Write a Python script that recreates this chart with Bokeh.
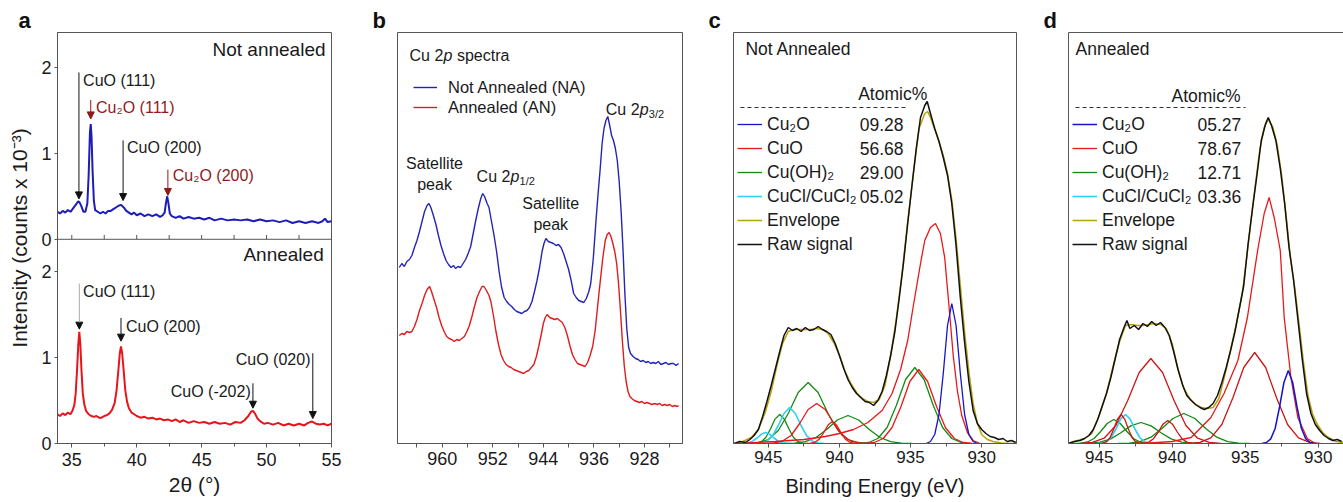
from bokeh.plotting import figure
from bokeh.models import (Range1d, FixedTicker, Label, Arrow, NormalHead, Span, Legend,
                          LegendItem, LinearAxis, CustomJSTickFormatter)
from bokeh.layouts import row
from bokeh.embed import file_html
from bokeh.resources import INLINE

FONT = "Liberation Sans"

# ---------------- DATA ----------------
# Panel a: XRD, intensity in counts x 10^-3
xrd_na = [(33.9,0.32),(34.1,0.30),(34.3,0.33),(34.5,0.31),(34.7,0.34),(34.9,0.32),(35.1,0.36),(35.3,0.40),
          (35.5,0.44),(35.6,0.43),(35.75,0.38),(35.9,0.32),(36.05,0.32),(36.2,0.42),(36.3,0.75),(36.4,1.25),
          (36.46,1.34),(36.52,1.20),(36.6,0.80),(36.7,0.45),(36.8,0.34),(37.0,0.32),(37.2,0.30),(37.4,0.32),
          (37.6,0.30),(37.8,0.33),(38.0,0.33),(38.2,0.35),(38.4,0.37),(38.6,0.39),(38.8,0.40),(39.0,0.37),
          (39.2,0.33),(39.4,0.31),(39.6,0.29),(39.8,0.31),(40.0,0.28),(40.3,0.30),(40.6,0.27),(40.9,0.29),
          (41.2,0.27),(41.5,0.29),(41.8,0.26),(42.0,0.28),(42.15,0.31),(42.25,0.42),(42.35,0.50),(42.45,0.41),
          (42.55,0.30),(42.7,0.27),(43.0,0.25),(43.3,0.27),(43.6,0.24),(44.0,0.26),(44.4,0.24),(44.8,0.25),
          (45.2,0.23),(45.6,0.25),(46.0,0.22),(46.5,0.24),(47.0,0.22),(47.5,0.23),(48.0,0.22),(48.5,0.23),
          (49.0,0.21),(49.5,0.23),(50.0,0.21),(50.5,0.22),(51.0,0.20),(51.5,0.22),(52.0,0.19),(52.5,0.21),
          (53.0,0.19),(53.5,0.21),(54.0,0.19),(54.3,0.21),(54.5,0.24),(54.7,0.20),(55.0,0.21)]
xrd_an = [(33.9,0.34),(34.1,0.32),(34.3,0.35),(34.5,0.33),(34.7,0.36),(34.9,0.34),(35.05,0.38),(35.2,0.45),
          (35.3,0.58),(35.4,0.84),(35.5,1.15),(35.58,1.30),(35.66,1.15),(35.75,0.84),(35.85,0.58),(35.97,0.45),
          (36.1,0.38),(36.3,0.34),(36.5,0.32),(36.7,0.31),(36.9,0.32),(37.1,0.30),(37.3,0.30),(37.5,0.32),
          (37.7,0.33),(37.9,0.35),(38.1,0.39),(38.3,0.47),(38.45,0.62),(38.58,0.84),(38.7,1.05),(38.79,1.13),
          (38.88,1.05),(39.0,0.84),(39.12,0.62),(39.25,0.49),(39.4,0.41),(39.6,0.36),(39.8,0.34),(40.0,0.32),
          (40.3,0.30),(40.6,0.31),(40.9,0.29),(41.2,0.30),(41.5,0.28),(41.8,0.29),(42.1,0.27),(42.4,0.28),
          (42.7,0.26),(43.0,0.28),(43.3,0.25),(43.6,0.27),(44.0,0.24),(44.4,0.26),(44.8,0.24),(45.2,0.25),
          (45.6,0.23),(46.0,0.25),(46.4,0.23),(46.8,0.24),(47.2,0.22),(47.6,0.25),(48.0,0.24),(48.3,0.27),
          (48.6,0.32),(48.8,0.37),(48.95,0.38),(49.1,0.35),(49.3,0.29),(49.5,0.26),(49.8,0.23),(50.1,0.24),
          (50.5,0.22),(50.9,0.24),(51.3,0.21),(51.7,0.23),(52.1,0.21),(52.5,0.23),(52.9,0.21),(53.2,0.24),
          (53.5,0.255),(53.8,0.23),(54.1,0.22),(54.4,0.23),(54.7,0.21),(55.0,0.23)]
xrd_major = [35, 40, 45, 50, 55]
xrd_minor = [37.5, 42.5, 47.5, 52.5]

# Panel b: Cu 2p survey (arbitrary units)
b_na = [(966.8,176),(966.4,180),(966.0,177),(965.6,182),(965.2,184),(964.8,188),(964.4,196),(964.0,203),
        (963.6,212),(963.2,222),(962.8,232),(962.4,238),(962.1,240),(961.8,236),(961.4,228),(961.0,219),
        (960.6,208),(960.2,198),(959.8,190),(959.4,183),(959.0,179),(958.6,176),(958.2,178),(957.9,175),
        (957.5,177),(957.1,176),(956.7,180),(956.3,184),(955.9,190),(955.5,197),(955.1,210),(954.7,223),
        (954.3,235),(953.9,245),(953.6,250),(953.3,247),(952.9,240),(952.6,236),(952.2,222),(951.8,208),
        (951.4,192),(951.0,172),(950.6,156),(950.2,146),(949.8,142),(949.4,139),(949.0,137),(948.6,134),
        (948.2,132),(947.8,131),(947.4,130),(947.0,132),(946.6,133),(946.2,136),(945.8,142),(945.4,152),
        (945.0,163),(944.6,176),(944.2,192),(943.9,200),(943.6,205),(943.2,202),(942.8,201),(942.4,200),
        (942.0,198),(941.6,199),(941.2,196),(940.8,190),(940.4,182),(940.0,174),(939.6,163),(939.2,150),
        (938.8,146),(938.4,143),(938.0,142),(937.6,141),(937.2,145),(936.8,152),(936.5,160),(936.1,185),
        (935.7,220),(935.4,245),(935.0,275),(934.7,300),(934.4,315),(934.1,323),(933.8,327),(933.5,318),
        (933.2,308),(932.9,303),(932.6,295),(932.3,283),(932.0,262),(931.7,233),(931.4,195),(931.1,150),
        (930.8,115),(930.5,96),(930.2,90),(929.8,87),(929.4,85),(929.0,84),(928.6,82),(928.2,83),
        (927.8,81),(927.4,82),(927.0,80),(926.6,81),(926.2,80),(925.8,82),(925.4,79),(925.0,80),
        (924.6,81),(924.2,79),(923.8,80),(923.4,80),(923.0,78),(922.6,80)]
b_an = [(966.8,108),(966.4,110),(966.0,109),(965.6,112),(965.2,111),(964.8,112),(964.4,117),(964.0,124),
        (963.6,133),(963.2,140),(962.8,148),(962.4,154),(962.0,157),(961.7,152),(961.3,144),(960.9,136),
        (960.5,126),(960.1,118),(959.7,112),(959.3,107),(958.9,105),(958.5,104),(958.1,102),(957.7,104),
        (957.3,103),(956.9,105),(956.5,107),(956.1,112),(955.7,118),(955.3,127),(954.9,137),(954.5,146),
        (954.1,152),(953.7,157),(953.4,157),(953.0,153),(952.6,148),(952.3,142),(951.9,128),(951.5,112),
        (951.1,99),(950.7,89),(950.3,83),(949.9,79),(949.5,77),(949.1,76),(948.7,74),(948.3,73),
        (947.9,72),(947.5,71),(947.1,70),(946.7,72),(946.3,73),(945.9,76),(945.5,79),(945.1,87),
        (944.7,98),(944.3,110),(944.0,120),(943.7,126),(943.4,129),(943.0,126),(942.6,125),(942.2,124),
        (941.8,125),(941.4,123),(941.0,121),(940.6,116),(940.2,108),(939.8,98),(939.4,89),(939.0,84),
        (938.6,80),(938.2,79),(937.8,78),(937.4,77),(937.0,81),(936.6,88),(936.2,97),(935.8,113),
        (935.4,138),(935.0,162),(934.6,185),(934.2,203),(933.9,209),(933.6,211),(933.3,207),(933.0,200),
        (932.7,192),(932.4,180),(932.1,160),(931.8,133),(931.5,103),(931.2,78),(930.9,62),(930.6,52),
        (930.3,47),(930.0,45),(929.6,43),(929.2,42),(928.8,41),(928.4,42),(928.0,40),(927.6,41),
        (927.2,40),(926.8,39),(926.4,40),(926.0,39),(925.6,40),(925.2,38),(924.8,39),(924.4,38),
        (924.0,39),(923.6,37),(923.2,38),(922.8,37),(922.6,38)]
b_major = [928, 936, 944, 952, 960]
b_minor = [924, 932, 940, 948, 956, 964]

# Panel c: Not annealed, fitted Cu 2p3/2 (arbitrary units)
c_raw = [(947.4,0),(947.0,2),(946.6,1),(946.3,4),(946.0,8),(945.7,14),(945.4,27),(945.1,42),(944.8,58),
         (944.5,75),(944.2,92),(943.9,108),(943.6,116),(943.3,113),(943.0,115),(942.7,112),(942.4,116),
         (942.1,113),(941.8,114),(941.5,117),(941.2,114),(940.9,112),(940.6,109),(940.3,100),(940.0,88),
         (939.7,75),(939.4,64),(939.1,56),(938.8,50),(938.5,46),(938.2,42),(937.9,41),(937.6,38),(937.3,43),
         (937.0,52),(936.7,68),(936.4,88),(936.1,112),(935.8,145),(935.5,180),(935.2,220),(934.9,258),
         (934.6,295),(934.3,326),(934.0,338),(933.83,342),(933.6,330),(933.3,315),(933.0,302),(932.7,286),
         (932.4,268),(932.1,240),(931.8,198),(931.5,146),(931.2,101),(930.9,62),(930.6,33),(930.3,20),
         (930.0,14),(929.7,10),(929.4,7),(929.1,6),(928.8,4),(928.5,5),(928.2,2),(927.9,3),(927.6,1)]
c_env = [(947.4,0),(946.8,2),(946.2,6),(945.7,14),(945.2,32),(944.8,52),(944.4,78),(944.0,100),(943.6,112),
         (943.2,114),(942.8,114),(942.4,114),(942.0,114),(941.6,115),(941.2,114),(940.8,110),(940.4,101),
         (940.0,88),(939.6,72),(939.2,60),(938.8,51),(938.4,45),(938.0,42),(937.6,41),(937.2,44),(936.8,58),
         (936.4,88),(936.0,125),(935.6,170),(935.2,222),(934.8,270),(934.4,315),(934.0,330),(933.8,332),
         (933.6,326),(933.3,314),(933.0,302),(932.7,288),(932.4,270),(932.1,244),(931.8,205),(931.5,158),
         (931.2,112),(930.9,72),(930.6,40),(930.3,20),(930.0,9),(929.6,4),(929.2,2),(928.6,0.5),(928.0,0),
         (927.6,0)]
c_cu2o = [(933.9,0),(933.6,2),(933.3,9),(933.0,29),(932.7,70),(932.4,118),(932.1,140),(931.8,118),
          (931.5,70),(931.2,29),(930.9,9),(930.6,2),(930.3,0)]
c_cuo_main = [(946.5,0.5),(944.5,2),(942.5,4),(941.0,7),(940.0,10),(939.0,14),(938.0,21),(937.0,33),
              (936.3,50),(935.7,74),(935.2,103),(934.8,138),(934.3,180),(934.0,203),(933.6,216),
              (933.25,220),(932.9,210),(932.6,186),(932.3,138),(932.0,88),(931.7,52),(931.4,28),
              (931.0,11),(930.6,3),(930.1,0)]
c_cuo_b = [(938.17,0),(937.55,1),(936.92,5),(936.3,16),(935.67,37),(935.05,62),(934.42,74),(933.8,62),
           (933.17,37),(932.55,16),(931.92,5),(931.3,1),(930.67,0)]
c_cuo_s1 = [(945.2,0),(944.6,0.5),(944.0,2.5),(943.4,8),(942.8,20),(942.2,34),(941.6,40),(941.0,34),
            (940.4,20),(939.8,8),(939.2,2.5),(938.6,0.5),(938.0,0)]
c_cuo_s2 = [(942.3,0),(942.0,0.3),(941.7,1.4),(941.4,4.6),(941.1,11),(940.8,18.5),(940.5,22),(940.2,18.5),
            (939.9,11),(939.6,4.6),(939.3,1.4),(939.0,0.3),(938.7,0)]
c_oh_main = [(938.6,0),(937.95,1),(937.3,5),(936.65,16),(936.0,38),(935.35,64),(934.7,76),(934.05,64),
             (933.4,38),(932.75,16),(932.1,5),(931.45,1),(930.8,0)]
c_oh_s1 = [(946.4,0),(945.7,1),(945.0,4),(944.3,13),(943.6,30),(942.9,51),(942.2,61),(941.5,51),
           (940.8,30),(940.1,13),(939.4,4),(938.7,1),(938.0,0)]
c_oh_s2 = [(943.9,0),(943.15,0.4),(942.4,1.8),(941.65,6),(940.9,14),(940.15,23.5),(939.4,28),(938.65,23.5),
           (937.9,14),(937.15,6),(936.4,1.8),(935.65,0.4),(934.9,0)]
c_oh_s3 = [(946.15,0),(945.83,0.4),(945.5,1.8),(945.18,6),(944.85,14.5),(944.53,24.4),(944.2,29),
           (943.88,24.4),(943.55,14.5),(943.23,6),(942.9,1.8),(942.58,0.4),(942.25,0)]
c_cl_a = [(945.9,0),(945.5,0.5),(945.1,2.3),(944.7,7.6),(944.3,18),(943.9,30),(943.5,36),(943.1,30),
          (942.7,18),(942.3,7.6),(941.9,2.3),(941.5,0.5),(941.1,0)]
c_cl_b = [(947.0,0),(946.7,0.1),(946.4,0.7),(946.1,2.3),(945.8,5.5),(945.5,9.2),(945.2,11),(944.9,9.2),
          (944.6,5.5),(944.3,2.3),(944.0,0.7),(943.7,0.1),(943.4,0)]

# Panel d: Annealed
d_raw = [(947.1,0),(946.7,2),(946.3,3),(946.0,5),(945.7,8),(945.4,14),(945.1,24),(944.8,37),(944.5,50),
         (944.2,66),(943.9,85),(943.6,104),(943.3,116),(943.1,123),(942.9,115),(942.6,118),(942.3,114),
         (942.0,120),(941.7,117),(941.4,122),(941.1,118),(940.8,121),(940.5,116),(940.2,108),(939.9,92),
         (939.6,74),(939.3,59),(939.0,48),(938.7,43),(938.4,39),(938.1,36),(937.8,34),(937.5,36),(937.2,40),
         (936.9,48),(936.6,61),(936.3,76),(936.0,93),(935.7,112),(935.4,135),(935.1,158),(934.8,200),
         (934.5,235),(934.2,268),(933.9,303),(933.6,320),(933.42,326),(933.2,318),(932.9,303),(932.6,275),
         (932.3,240),(932.0,196),(931.7,165),(931.4,125),(931.1,85),(930.8,50),(930.5,30),(930.2,19),
         (929.9,13),(929.6,8),(929.3,5),(929.0,3),(928.7,4),(928.4,2)]
d_env = [(947.1,0),(946.5,3),(946.0,5),(945.5,10),(945.0,28),(944.5,50),(944.0,80),(943.6,102),(943.2,118),
         (942.8,119),(942.4,118),(942.0,118),(941.6,119),(941.2,120),(940.8,119),(940.4,115),(940.0,100),
         (939.6,74),(939.2,55),(938.8,45),(938.4,39),(938.0,36),(937.6,35),(937.2,36),(936.8,45),(936.4,68),
         (936.0,94),(935.6,120),(935.2,150),(934.8,198),(934.4,248),(934.0,294),(933.7,316),(933.42,324),
         (933.1,316),(932.8,298),(932.5,268),(932.2,228),(931.9,185),(931.6,155),(931.3,118),(931.0,80),
         (930.7,48),(930.4,30),(930.1,20),(929.7,11),(929.3,6),(928.8,2),(928.3,1)]
d_cu2o = [(933.85,0),(933.55,1),(933.25,4.6),(932.95,15),(932.65,36.5),(932.35,61),(932.05,73),(931.75,61),
          (931.45,36.5),(931.15,15),(930.85,4.6),(930.55,1),(930.25,0)]
d_cuo_main = [(942.0,0),(940.0,2),(938.7,6),(937.35,26),(936.45,50),(935.5,83),(934.85,126),(934.15,193),
              (933.7,230),(933.36,246),(933.0,225),(932.6,193),(932.33,126),(931.87,66),(931.4,26),
              (930.75,5),(930.2,0)]
d_cuo_b = [(938.85,0),(938.1,1.2),(937.35,5.7),(936.6,19),(935.85,45.5),(935.1,76),(934.35,91),(933.6,76),
           (932.85,45.5),(932.1,19),(931.35,5.7),(930.6,1.2),(929.85,0)]
d_cuo_s1 = [(946.26,0),(945.46,1.1),(944.66,5.3),(943.86,18),(943.06,42.5),(942.26,71),(941.46,85),
            (940.66,71),(939.86,42.5),(939.06,18),(938.26,5.3),(937.46,1.1),(936.66,0)]
d_cuo_s2 = [(942.25,0),(941.93,0.3),(941.6,1.4),(941.28,4.8),(940.95,11.5),(940.63,19.3),(940.3,23),
            (939.98,19.3),(939.65,11.5),(939.33,4.8),(939.0,1.4),(938.68,0.3),(938.35,0)]
d_cuo_s3 = [(945.0,0),(944.75,0.4),(944.5,1.8),(944.25,6),(944.0,14.5),(943.75,24.4),(943.5,29),
            (943.25,24.4),(943.0,14.5),(942.75,6),(942.5,1.8),(942.25,0.4),(942.0,0)]
d_oh_a = [(943.7,0),(942.95,0.4),(942.2,1.9),(941.45,6.3),(940.7,15),(939.95,25),(939.2,30),(938.45,25),
          (937.7,15),(936.95,6.3),(936.2,1.9),(935.45,0.4),(934.7,0)]
d_oh_b = [(946.34,0),(945.64,0.3),(944.94,1.3),(944.24,4.4),(943.54,10.5),(942.84,17.6),(942.14,21),
          (941.44,17.6),(940.74,10.5),(940.04,4.4),(939.34,1.3),(938.64,0.3),(937.94,0)]
d_oh_c = [(946.7,0),(946.25,0.3),(945.8,1.5),(945.35,5),(944.9,12),(944.45,20),(944.0,24),(943.55,20),
          (943.1,12),(942.65,5),(942.2,1.5),(941.75,0.3),(941.3,0)]
d_cl = [(945.15,0),(944.83,0.4),(944.5,1.8),(944.18,6),(943.85,14.5),(943.53,24.4),(943.2,29),
        (942.88,24.4),(942.55,14.5),(942.23,6),(941.9,1.8),(941.58,0.4),(941.25,0)]
xps_major = [930, 935, 940, 945]
xps_minor = [932.5, 937.5, 942.5]

species = ["Cu\u2082O", "CuO", "Cu(OH)\u2082", "CuCl/CuCl\u2082", "Envelope", "Raw signal"]
atomic_na = ["09.28", "56.68", "29.00", "05.02"]
atomic_an = ["05.27", "78.67", "12.71", "03.36"]

# ---------------- STYLE ----------------
AXC = "#555555"
TXT = "#1a1a1a"
C_CU2O, C_CUO, C_OH, C_CL, C_ENV, C_RAW = "#1414CC", "#E81818", "#138A13", "#30D0F0", "#B8A20A", "#111111"
C_CUO_D = "#CC1515"
DARKRED = "#8E1B1B"
H, BT, BB = 502, 32, 59


def xs(pairs):
    return [p[0] for p in pairs]


def ys(pairs, off=0.0):
    return [p[1] + off for p in pairs]


def base_fig(width, xr, yr, bl, br):
    p = figure(width=width, height=H, x_range=Range1d(*xr), y_range=Range1d(*yr),
               output_backend="svg", toolbar_location=None,
               min_border_left=bl, min_border_right=br, min_border_top=BT, min_border_bottom=BB)
    p.grid.visible = False
    p.outline_line_color = AXC
    p.outline_line_width = 1
    p.background_fill_color = "white"
    p.border_fill_color = "white"
    for ax in p.axis:
        ax.axis_line_color = AXC
        ax.major_tick_line_color = AXC
        ax.minor_tick_line_color = AXC
        ax.major_label_text_font = FONT
        ax.major_label_text_color = TXT
        ax.axis_label_text_font = FONT
        ax.axis_label_text_font_style = "normal"
        ax.axis_label_text_color = TXT
    return p


def letter(p, t, off):
    p.title.text = t
    p.title.align = "left"
    p.title.offset = off
    p.title.standoff = 0
    p.title.text_font = FONT
    p.title.text_font_size = "22px"
    p.title.text_font_style = "bold"
    p.title.text_color = "#111111"


def lab(p, x, y, text, size="16px", color=TXT, align="left", baseline="middle",
        style="normal", xo=0, yo=0):
    p.add_layout(Label(x=x, y=y, text=text, text_font=FONT, text_font_size=size, text_color=color,
                       text_align=align, text_baseline=baseline, text_font_style=style,
                       x_offset=xo, y_offset=yo))


def arrow(p, x, y0, y1, color="#111111", head="#111111"):
    p.add_layout(Arrow(x_start=x, y_start=y0, x_end=x, y_end=y1, line_color=color, line_width=1,
                       end=NormalHead(size=7, fill_color=head, line_color=head, line_width=1)))


# ---------------- PANEL A ----------------
OFF = 2.375
pa = base_fig(370, (33.9, 55.0), (0, 4.78), 57, 39)
letter(pa, "a", -39)
pa.xaxis.ticker = FixedTicker(ticks=xrd_major, minor_ticks=xrd_minor)
pa.xaxis.major_tick_in = 0
pa.xaxis.major_tick_out = 4
pa.xaxis.minor_tick_in = 0
pa.xaxis.minor_tick_out = 3
pa.xaxis.major_label_text_font_size = "18px"
pa.xaxis.major_label_standoff = 5
pa.xaxis.axis_label = "2\u03b8 (\u00b0)"
pa.xaxis.axis_label_text_font_size = "21px"
pa.xaxis.axis_label_standoff = 4
pa.yaxis.ticker = FixedTicker(ticks=[0, 1, 2, OFF, OFF + 1, OFF + 2], minor_ticks=[])
pa.yaxis.formatter = CustomJSTickFormatter(code="return String(Math.round(tick > 2.3 ? tick - 2.375 : tick));")
pa.yaxis.major_tick_in = 0
pa.yaxis.major_tick_out = 3
pa.yaxis.major_label_text_font_size = "18px"
pa.yaxis.major_label_standoff = 3
pa.yaxis.axis_label = "Intensity (counts x 10\u207b\u00b3)"
pa.yaxis.axis_label_text_font_size = "21px"
pa.yaxis.axis_label_standoff = 7
pa.add_layout(Span(location=OFF, dimension="width", line_color=AXC, line_width=1))
sep_ticks = xrd_major + xrd_minor
pa.segment(x0=sep_ticks, y0=[OFF] * len(sep_ticks), x1=sep_ticks, y1=[OFF + 0.05] * len(sep_ticks),
           line_color=AXC, line_width=1)

pa.line(xs(xrd_na), ys(xrd_na, OFF), line_color="#1C1CB8", line_width=2)
pa.line(xs(xrd_an), ys(xrd_an), line_color="#E8141B", line_width=2)

# top annotations
arrow(pa, 35.55, OFF + 1.94, OFF + 0.47)
arrow(pa, 36.46, OFF + 1.62, OFF + 1.40, color=DARKRED, head=DARKRED)
arrow(pa, 38.95, OFF + 1.15, OFF + 0.45)
arrow(pa, 42.40, OFF + 0.81, OFF + 0.51, color=DARKRED, head=DARKRED)
lab(pa, 35.87, OFF + 1.85, "CuO (111)")
lab(pa, 36.87, OFF + 1.535, "Cu\u2082O (111)", color=DARKRED)
lab(pa, 39.25, OFF + 1.07, "CuO (200)")
lab(pa, 42.78, OFF + 0.745, "Cu\u2082O (200)", color=DARKRED)
lab(pa, 54.54, OFF + 2.21, "Not annealed", size="19px", align="right")
# bottom annotations
arrow(pa, 35.58, 1.86, 1.33, color="#AAAAAA")
arrow(pa, 38.79, 1.46, 1.19)
arrow(pa, 48.95, 0.70, 0.41)
arrow(pa, 53.56, 1.05, 0.29)
lab(pa, 35.87, 1.77, "CuO (111)")
lab(pa, 39.17, 1.36, "CuO (200)")
lab(pa, 48.78, 0.60, "CuO (-202)", align="right")
lab(pa, 53.38, 0.98, "CuO (020)", align="right")
lab(pa, 54.40, 2.20, "Annealed", size="19px", align="right")

# ---------------- PANEL B ----------------
pb = base_fig(335, (967.08, 921.98), (0, 411), 27, 23)
letter(pb, "b", -25)
pb.yaxis.visible = False
pb.xaxis.ticker = FixedTicker(ticks=b_major, minor_ticks=b_minor)
pb.xaxis.major_tick_in = 0
pb.xaxis.major_tick_out = 4
pb.xaxis.minor_tick_in = 0
pb.xaxis.minor_tick_out = 4
pb.xaxis.major_label_text_font_size = "18px"
pb.xaxis.major_label_standoff = 4
rb1 = pb.line(xs(b_na), ys(b_na), line_color="#2424B4", line_width=1.4)
rb2 = pb.line(xs(b_an), ys(b_an), line_color="#E01B1B", line_width=1.4)
legb = Legend(items=[LegendItem(label="Not Annealed (NA)", renderers=[rb1]),
                     LegendItem(label="Annealed (AN)", renderers=[rb2])],
              location=(16, 326), label_text_font=FONT, label_text_font_size="16.5px",
              label_text_color=TXT, label_height=20, glyph_height=20, glyph_width=24,
              label_standoff=11, spacing=0, padding=0, margin=0,
              border_line_color=None, background_fill_alpha=0)
pb.add_layout(legb)
# "Cu 2p spectra"
lab(pb, 965.18, 388, "Cu 2", baseline="alphabetic")
lab(pb, 965.18, 388, "p", baseline="alphabetic", style="italic", xo=34)
lab(pb, 965.18, 388, "\u00a0spectra", baseline="alphabetic", xo=43)
# peak names
lab(pb, 961.22, 280, "Satellite", align="center")
lab(pb, 961.22, 259, "peak", align="center")
lab(pb, 942.83, 240, "Satellite", align="center")
lab(pb, 942.83, 219, "peak", align="center")
lab(pb, 954.56, 267, "Cu 2", baseline="alphabetic")
lab(pb, 954.56, 267, "p", baseline="alphabetic", style="italic", xo=34)
lab(pb, 954.56, 267, "1/2", size="11px", baseline="alphabetic", xo=43, yo=-4)
lab(pb, 934.12, 334, "Cu 2", baseline="alphabetic")
lab(pb, 934.12, 334, "p", baseline="alphabetic", style="italic", xo=34)
lab(pb, 934.12, 334, "3/2", size="11px", baseline="alphabetic", xo=43, yo=-4)


# ---------------- PANELS C / D ----------------
def xps_axes(p, with_label):
    ax = p.below[0]
    ax.ticker = FixedTicker(ticks=xps_major, minor_ticks=xps_minor)
    ax.major_tick_in = 0
    ax.major_tick_out = 4
    ax.minor_tick_in = 0
    ax.minor_tick_out = 3
    ax.major_label_text_font_size = "17px"
    ax.major_label_standoff = 3
    p.yaxis.ticker = FixedTicker(ticks=[], minor_ticks=[])
    p.yaxis.major_label_text_font_size = "1px"
    if with_label:
        ax.axis_label = "Binding Energy (eV)"
        ax.axis_label_text_font_size = "20px"
        ax.axis_label_standoff = 9


def legend_xps(p, rends, loc):
    items = [LegendItem(label=s, renderers=[r]) for s, r in zip(species, rends)]
    p.add_layout(Legend(items=items, location=loc, label_text_font=FONT, label_text_font_size="17.5px",
                        label_text_color=TXT, label_height=24, glyph_height=24, glyph_width=25,
                        label_standoff=5, spacing=0, padding=0, margin=0,
                        border_line_color=None, background_fill_alpha=0))


pc = base_fig(335, (947.45, 927.55), (0, 411), 28, 24)
letter(pc, "c", -25)
xps_axes(pc, True)
LW = 1.3
rc_oh = None
for comp in (c_oh_main, c_oh_s1, c_oh_s2, c_oh_s3):
    r = pc.line(xs(comp), ys(comp), line_color=C_OH, line_width=LW)
    rc_oh = rc_oh or r
for comp in (c_cl_a, c_cl_b):
    rc_cl = pc.line(xs(comp), ys(comp), line_color=C_CL, line_width=1.6)
for comp in (c_cuo_b, c_cuo_s1, c_cuo_s2, c_cuo_main):
    rc_cuo = pc.line(xs(comp), ys(comp), line_color=C_CUO, line_width=LW)
rc_cu2o = pc.line(xs(c_cu2o), ys(c_cu2o), line_color=C_CU2O, line_width=LW)
rc_env = pc.line(xs(c_env), ys(c_env), line_color=C_ENV, line_width=1.5)
rc_raw = pc.line(xs(c_raw), ys(c_raw), line_color=C_RAW, line_width=1.5)
legend_xps(pc, [rc_cu2o, rc_cuo, rc_oh, rc_cl, rc_env, rc_raw], (4, 187))
lab(pc, 946.61, 395, "Not Annealed", size="17.5px")
lab(pc, 933.83, 350, "Atomic%", size="17.5px", align="right")
pc.segment(x0=[946.96], y0=[336], x1=[935.14], y1=[336], line_color="#333333", line_width=1,
           line_dash="4 3")
for i, v in enumerate(atomic_na):
    lab(pc, 935.49, 319 - 24 * i, v, size="17.5px", align="right")

pd = base_fig(303, (947.1, 928.27), (0, 411), 28, 0)
letter(pd, "d", -25)
pd.outline_line_color = None
xps_axes(pd, False)
pd.add_layout(LinearAxis(ticker=FixedTicker(ticks=[], minor_ticks=[]), axis_line_color=AXC,
                         major_label_text_font_size="1px", major_label_standoff=0,
                         major_tick_line_color=None, minor_tick_line_color=None), "above")
for comp in (d_oh_a, d_oh_b, d_oh_c):
    rd_oh = pd.line(xs(comp), ys(comp), line_color=C_OH, line_width=LW)
rd_cl = pd.line(xs(d_cl), ys(d_cl), line_color=C_CL, line_width=1.6)
for comp in (d_cuo_s1, d_cuo_s2, d_cuo_s3, d_cuo_b):
    pd.line(xs(comp), ys(comp), line_color=C_CUO_D, line_width=LW)
rd_cuo = pd.line(xs(d_cuo_main), ys(d_cuo_main), line_color=C_CUO, line_width=LW)
rd_cu2o = pd.line(xs(d_cu2o), ys(d_cu2o), line_color=C_CU2O, line_width=1.5)
rd_env = pd.line(xs(d_env), ys(d_env), line_color=C_ENV, line_width=1.5)
rd_raw = pd.line(xs(d_raw), ys(d_raw), line_color=C_RAW, line_width=1.5)
legend_xps(pd, [rd_cu2o, rd_cuo, rd_oh, rd_cl, rd_env, rd_raw], (4, 187))
lab(pd, 946.62, 395, "Annealed", size="17.5px")
lab(pd, 935.32, 348, "Atomic%", size="17.5px", align="right")
pd.segment(x0=[946.62], y0=[336], x1=[934.98], y1=[336], line_color="#333333", line_width=1,
           line_dash="4 3")
for i, v in enumerate(atomic_an):
    lab(pd, 935.27, 319 - 24 * i, v, size="17.5px", align="right")

layout = row(pa, pb, pc, pd)
open("out.html", "w").write(file_html(layout, INLINE))
